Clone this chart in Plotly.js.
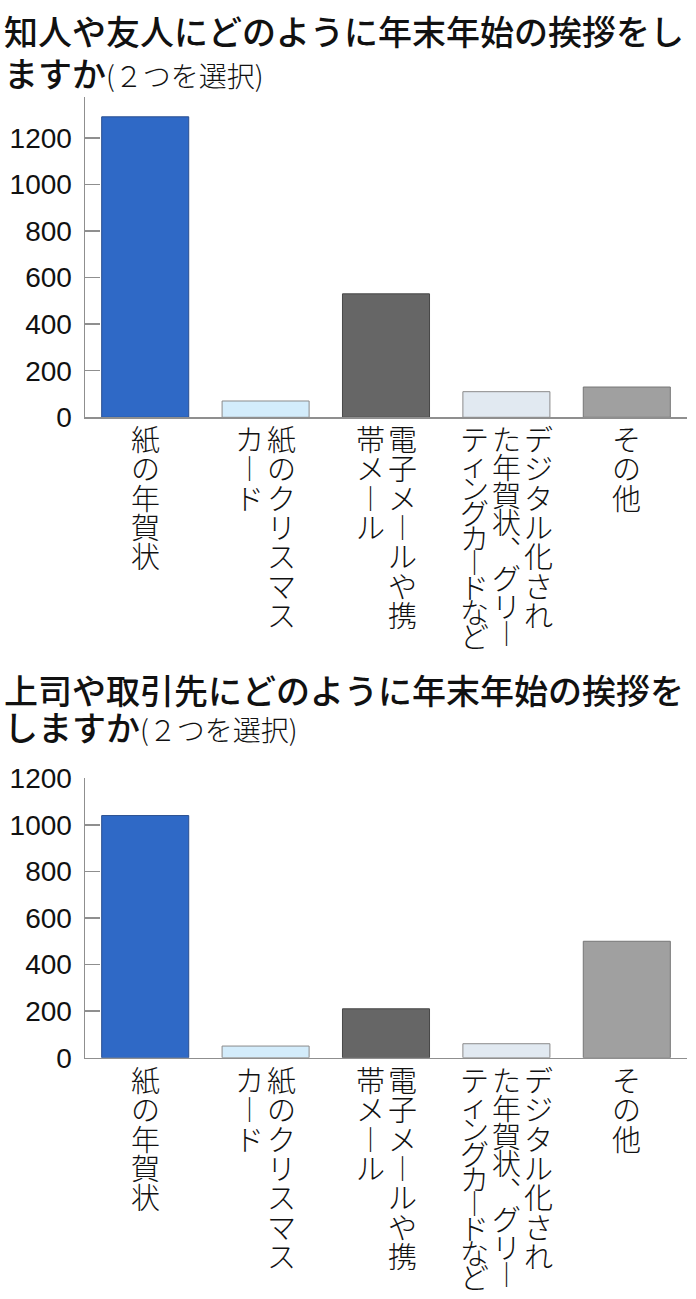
<!DOCTYPE html>
<html>
<head>
<meta charset="utf-8">
<script src="https://cdn.plot.ly/plotly-3.0.1.min.js"></script>
<style>
  html, body { margin: 0; padding: 0; background: #fff; }
  #chart { width: 696px; height: 1299px; }
</style>
</head>
<body>
<div id="chart"></div>
<script>
// ---- data ----
const categories = [
  '紙の年賀状',
  '紙のクリスマスカード',
  '電子メールや携帯メール',
  'デジタル化された年賀状、グリーティングカードなど',
  'その他'
];
// vertical label columns, right column first
const labelColumns = [
  ['紙の年賀状'],
  ['紙のクリスマス', 'カード'],
  ['電子メールや携', '帯メール'],
  ['デジタル化され', 'た年賀状、グリー', 'ティングカードなど'],
  ['その他']
];
const friendsValues = [1290, 70, 530, 110, 130];
const bossValues = [1040, 50, 210, 60, 500];
const yTickVals = [0, 200, 400, 600, 800, 1000, 1200];
const yTickText = ['0', '200', '400', '600', '800', '1000', '1200'];
const title1Main = '知人や友人にどのように年末年始の挨拶をし';
const title1Rest = 'ますか';
const title2Main = '上司や取引先にどのように年末年始の挨拶を';
const title2Rest = 'しますか';
const titleNote = '(２つを選択)';

// ---- style ----
const W = 696, H = 1299;
const barColors = ['#2f69c6', '#d3ecfb', '#666666', '#e1e9f1', '#a0a0a0'];
const barLines = ['#2a4f90', '#8a8a8a', '#474747', '#8a8a8a', '#767676'];
const axisColor = '#8f8f8f';
const CJK = '"Noto Sans CJK JP", "Noto Sans", sans-serif';
const CHAR_SIZE = 29, CHAR_PITCH = 29.3, COL_PITCH = 32, MAX_LABEL_LEN = 222, LABEL_START = -1;

const px = v => v / W;
const py = v => 1 - v / H;

function barTrace(values, xa, ya) {
  return {
    type: 'bar',
    x: categories.map((c, i) => i),
    y: values,
    xaxis: xa, yaxis: ya,
    marker: { color: barColors, line: { color: barLines, width: 1 } },
    hoverinfo: 'skip',
    showlegend: false
  };
}

function xAxis(anchor) {
  return {
    domain: [px(85), px(687)],
    anchor: anchor,
    range: [-0.5, 4.5],
    showticklabels: false,
    ticks: '',
    showline: true, linecolor: axisColor, linewidth: 1.5,
    showgrid: false, zeroline: false, fixedrange: true
  };
}
function yAxis(anchor, top, bottom, maxv) {
  return {
    domain: [py(bottom), py(top)],
    anchor: anchor,
    range: [0, maxv],
    tickmode: 'array', tickvals: yTickVals, ticktext: yTickText,
    ticks: 'inside', ticklen: 15, tickwidth: 1.5, tickcolor: axisColor,
    ticklabelstandoff: 6,
    tickfont: { family: '"Liberation Sans", Arial, sans-serif', size: 28, color: '#111' },
    showline: true, linecolor: axisColor, linewidth: 1.5,
    showgrid: false, zeroline: false, fixedrange: true
  };
}

const verticalForm = ch => ({ 'ー': '︱', '、': '︑' }[ch] || ch);

// one annotation per vertical column; line pitch set by the base font size,
// glyph size set by an inner span
function labelAnnotations(xref, yref) {
  const out = [];
  labelColumns.forEach((cols, ci) => {
    const n = cols.length;
    cols.forEach((col, k) => {
      const chars = Array.from(col);
      const pitch = Math.min(CHAR_PITCH, MAX_LABEL_LEN / chars.length);
      out.push({
        xref: xref, yref: yref, x: ci, y: 0,
        xshift: ((n - 1) / 2 - k) * COL_PITCH,
        yshift: -LABEL_START,
        text: chars.map(c => '<span style="font-size:' + CHAR_SIZE + 'px">' + verticalForm(c) + '</span>').join('<br>'),
        showarrow: false, align: 'center',
        xanchor: 'center', yanchor: 'top',
        borderpad: 0,
        font: { family: CJK, size: pitch / 1.3, color: '#111', weight: 300 }
      });
    });
  });
  return out;
}

function titleAnnotations(main, rest, yLine1, yLine2) {
  return [
    { xref: 'paper', yref: 'paper', x: px(2), y: py(yLine1), xanchor: 'left', yanchor: 'middle',
      showarrow: false, text: main,
      font: { family: CJK, size: 34, color: '#111', weight: 500 } },
    { xref: 'paper', yref: 'paper', x: px(2), y: py(yLine2), xanchor: 'left', yanchor: 'middle',
      showarrow: false,
      text: rest + '<span style="font-size:28px;font-weight:300">' + titleNote + '</span>',
      font: { family: CJK, size: 34, color: '#111', weight: 500 } }
  ];
}

const data = [
  barTrace(friendsValues, 'x', 'y'),
  barTrace(bossValues, 'x2', 'y2')
];

const layout = {
  width: W, height: H,
  margin: { l: 0, r: 0, t: 0, b: 0 },
  paper_bgcolor: '#fff', plot_bgcolor: '#fff',
  bargap: 0.277,
  xaxis: xAxis('y'),
  yaxis: yAxis('x', 97, 417.3, 1375),
  xaxis2: xAxis('y2'),
  yaxis2: yAxis('x2', 778.3, 1057.7, 1200),
  annotations: [].concat(
    titleAnnotations(title1Main, title1Rest, 30, 72),
    titleAnnotations(title2Main, title2Rest, 690, 727),
    labelAnnotations('x', 'y'),
    labelAnnotations('x2', 'y2')
  )
};

Plotly.newPlot('chart', data, layout, { displayModeBar: false, staticPlot: true });
</script>
</body>
</html>
